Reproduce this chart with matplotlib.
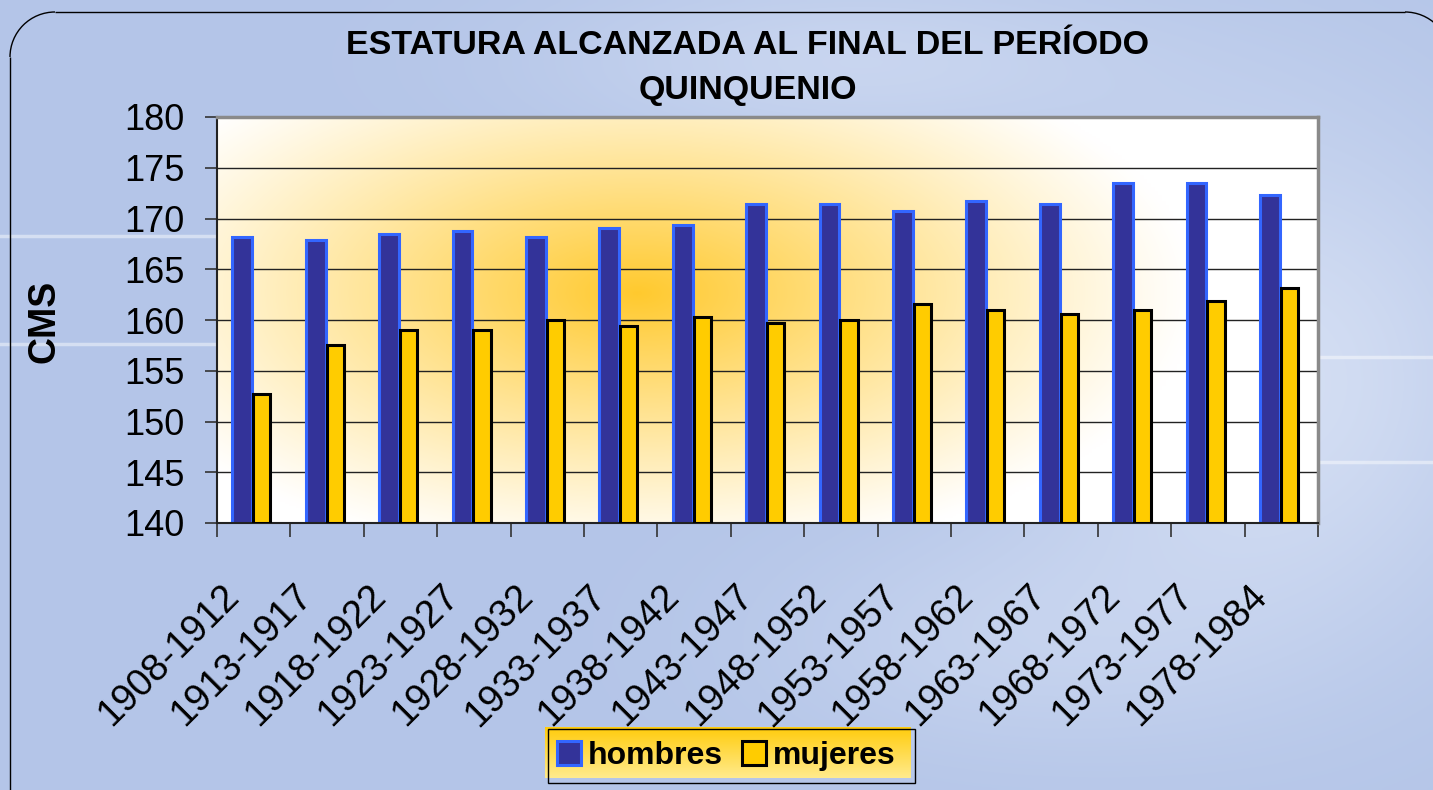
import numpy as np
import matplotlib
matplotlib.use("Agg")
import matplotlib.pyplot as plt
from matplotlib.patches import Rectangle, Arc
from matplotlib.lines import Line2D
from matplotlib.transforms import ScaledTranslation

categories = ["1908-1912", "1913-1917", "1918-1922", "1923-1927", "1928-1932",
              "1933-1937", "1938-1942", "1943-1947", "1948-1952", "1953-1957",
              "1958-1962", "1963-1967", "1968-1972", "1973-1977", "1978-1984"]
hombres = [168.2, 167.9, 168.5, 168.8, 168.2, 169.1, 169.4, 171.4, 171.4,
           170.7, 171.7, 171.4, 173.5, 173.5, 172.3]
mujeres = [152.7, 157.5, 159.0, 159.0, 160.0, 159.4, 160.3, 159.7, 160.0,
           161.6, 161.0, 160.6, 161.0, 161.9, 163.2]
yticks = [140, 145, 150, 155, 160, 165, 170, 175, 180]
title = "ESTATURA ALCANZADA AL FINAL DEL PERÍODO\nQUINQUENIO"
ylabel = "CMS"
series_names = ["hombres", "mujeres"]

plt.rcParams['font.family'] = ['Liberation Sans', 'DejaVu Sans']

W, H = 1433, 790
fig = plt.figure(figsize=(W / 100, H / 100), dpi=100)

# ---- background axes (pixel coordinates) ----
bg = fig.add_axes([0, 0, 1, 1], zorder=-5)
bg.set_xlim(0, W)
bg.set_ylim(H, 0)
bg.axis('off')
yy, xx = np.mgrid[0:H:4, 0:W:4]
base = np.array([180, 197, 232]) / 255.0
light = np.exp(-(((xx - 1280) / 240.0) ** 2 + ((yy - 380) / 260.0) ** 2)) * 0.55
light += np.exp(-(((xx - 850) / 300.0) ** 2 + ((yy - 60) / 90.0) ** 2)) * 0.35
light += np.exp(-(((xx - 1000) / 250.0) ** 2 + ((yy - 640) / 120.0) ** 2)) * 0.25
light = np.clip(light, 0, 0.8)
img = base[None, None, :] * (1 - light[..., None]) + light[..., None] * np.array([0.93, 0.95, 0.99])
bg.imshow(img, extent=(0, W, H, 0), aspect='auto', interpolation='bilinear', zorder=0)
for ys, x0, x1 in [(236, 0, 215), (344, 0, 215), (357, 1320, W), (462, 1320, W)]:
    bg.plot([x0, x1], [ys, ys], color='white', alpha=0.45, lw=2.5, zorder=1)

# rounded outer frame (top-left and top-right corners visible)
R = 45
fx0, fy0, fx1 = 10, 12, 1450
bg.plot([fx0 + R, fx1 - R], [fy0, fy0], color='black', lw=1.0, zorder=2, solid_capstyle='butt')
bg.plot([fx0, fx0], [fy0 + R, H + 5], color='black', lw=1.0, zorder=2, solid_capstyle='butt')
bg.add_patch(Arc((fx0 + R, fy0 + R), 2 * R, 2 * R, theta1=180, theta2=270,
                 color='black', lw=1.0, zorder=2))
bg.add_patch(Arc((fx1 - R, fy0 + R), 2 * R, 2 * R, theta1=270, theta2=360,
                 color='black', lw=1.0, zorder=2))

# legend box with gradient
lx0, lx1, ly0, ly1 = 548, 915, 729, 783
grad = np.linspace(0, 1, 50)[:, None]
top = np.array([1.0, 0.80, 0.05])
bot = np.array([1.0, 0.92, 0.55])
gimg = top[None, None, :] * (1 - grad[..., None]) + bot[None, None, :] * grad[..., None]
gimg = np.repeat(gimg, 2, axis=1)
bg.imshow(gimg, extent=(lx0 - 3, lx1 - 4, ly1 - 5, ly0 - 2), aspect='auto', zorder=3)
bg.add_patch(Rectangle((lx0, ly0), lx1 - lx0, ly1 - ly0, fc='none', ec='black', lw=1.0, zorder=4))

# ---- main axes ----
ax = fig.add_axes([217 / W, 1 - 523 / H, (1318 - 217) / W, (523 - 117) / H])
ax.set_facecolor('none')
ax.set_xlim(-0.5, len(categories) - 0.5)
ax.set_ylim(140, 180)

# radial gradient plot background
gy, gx = np.mgrid[0:200, 0:300]
px = gx / 299.0 * 1101
py = gy / 199.0 * 406
r = np.sqrt(((px - 420) / 560.0) ** 2 + ((py - 230) / 270.0) ** 2)
t = np.clip(1 - r, 0, 1) ** 1.1
center = np.array([1.0, 0.79, 0.18])
white = np.array([1.0, 1.0, 1.0])
pimg = white[None, None, :] * (1 - t[..., None]) + center[None, None, :] * t[..., None]
ax.imshow(pimg, extent=(-0.5, len(categories) - 0.5, 180, 140), aspect='auto',
          interpolation='bilinear', zorder=0)
ax.set_ylim(140, 180)

for v in yticks[1:-1]:
    ax.axhline(v, color='#222222', lw=1.0, zorder=1)

x = np.arange(len(categories))
ax.bar(x - 0.155, np.array(hombres) - 140, bottom=140, width=0.27,
       color='#333399', edgecolor='#3366FF', linewidth=2.2, zorder=2)
ax.bar(x + 0.11, np.array(mujeres) - 140, bottom=140, width=0.235,
       color='#FFCC00', edgecolor='black', linewidth=2.2, zorder=3)

ax.set_yticks(yticks)
ax.set_yticklabels([str(v) for v in yticks], fontsize=26)
ax.tick_params(axis='y', direction='out', length=8.5, width=1.2, pad=15, color='#333333')

ax.set_xticks(x)
ax.set_xticklabels(categories, rotation=45, ha='right', rotation_mode='anchor', fontsize=27.5)
ax.tick_params(axis='x', which='major', length=0, pad=34)
shift = ScaledTranslation(-33 / 100.0, -8 / 100.0, fig.dpi_scale_trans)
for lbl in ax.get_xticklabels():
    lbl.set_transform(lbl.get_transform() + shift)
ax.set_xticks(np.arange(-0.5, len(categories), 1.0), minor=True)
ax.tick_params(axis='x', which='minor', direction='out', length=10, width=1.2, color='#333333')

for s in ['left', 'bottom']:
    ax.spines[s].set_color('#222222')
    ax.spines[s].set_linewidth(1.5)
for s in ['top', 'right']:
    ax.spines[s].set_color('#8a8a8a')
    ax.spines[s].set_linewidth(2.5)

fig.text(748 / W, 1 - 68 / H, title, ha='center', va='center', fontsize=24.5,
         fontweight='bold', linespacing=1.58)
fig.text(45 / W, 1 - 321 / H, ylabel, ha='center', va='center', rotation=90,
         fontsize=27, fontweight='bold')

handles = [Line2D([], [], marker='s', ls='none', markersize=17, markerfacecolor='#333399',
                  markeredgecolor='#3366FF', markeredgewidth=2.2),
           Line2D([], [], marker='s', ls='none', markersize=17, markerfacecolor='#FFCC00',
                  markeredgecolor='black', markeredgewidth=2.2)]
fig.legend(handles, series_names, loc='center left', bbox_to_anchor=(553 / W, 1 - (ly0 + ly1) / 2 / H),
           ncol=2, frameon=False, prop={'size': 23, 'weight': 'bold'},
           handletextpad=0.1, columnspacing=0.45, handlelength=1.0, borderaxespad=0, borderpad=0)

fig.savefig("out.png", dpi=100)
